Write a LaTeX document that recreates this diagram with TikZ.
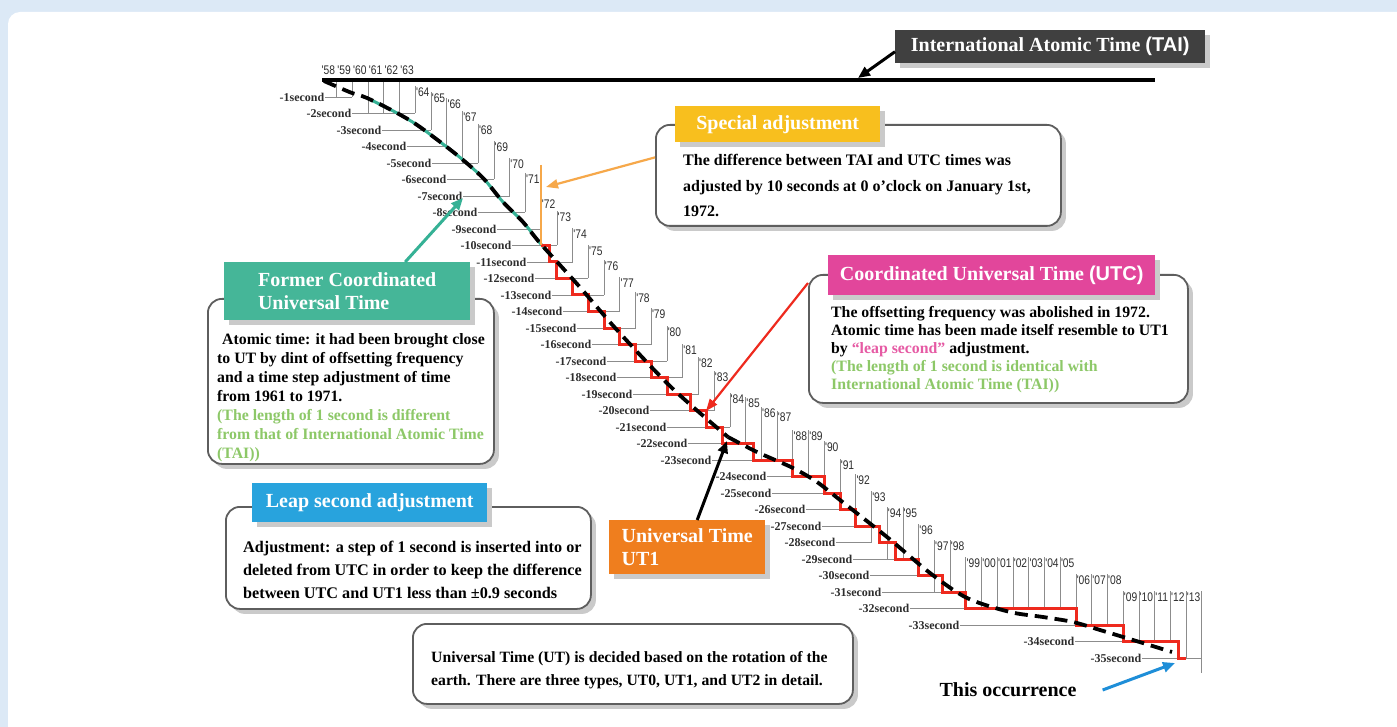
\documentclass[tikz,border=0pt]{standalone}
\usepackage{fontspec}
\setmainfont{Liberation Serif}
\newfontfamily\lsans{Liberation Sans}
\newfontfamily\yrfont[FakeStretch=0.82]{Liberation Sans}
\usetikzlibrary{arrows.meta,shadows}
\definecolor{bgblue}{HTML}{DCE9F6}
\definecolor{gridgray}{HTML}{8C8C8C}
\definecolor{labgray}{HTML}{2E2E2E}
\definecolor{boxgray}{HTML}{5E5E5E}
\definecolor{shadowgray}{HTML}{CACACA}
\definecolor{taidark}{HTML}{404040}
\definecolor{yellowc}{HTML}{F8BF1E}
\definecolor{pinkc}{HTML}{E2469B}
\definecolor{tealc}{HTML}{45B698}
\definecolor{bluec}{HTML}{28A3DD}
\definecolor{orangec}{HTML}{EF7E1E}
\definecolor{curveteal}{HTML}{35B195}
\definecolor{utcred}{HTML}{EE2A1E}
\definecolor{orangeline}{HTML}{F6A84A}
\definecolor{greentxt}{HTML}{8DC868}
\definecolor{pinktxt}{HTML}{E65AA4}
\definecolor{bluearrow}{HTML}{1E8ED8}
\begin{document}
\begin{tikzpicture}[x=1pt,y=-1pt,
  declare function={X(\a)=321+15.73*(\a-1958); Y(\b)=97+16.5*(\b-1);},
  grid/.style={draw=gridgray, line width=0.9pt},
  seclab/.style={font=\bfseries\fontsize{12}{12}\selectfont, text=labgray, inner sep=0.5pt, anchor=east},
  yrlab/.style={font=\yrfont\fontsize{12.5}{12.5}\selectfont, text=labgray, inner sep=0.5pt, anchor=west},
  rbox/.style={draw=boxgray, line width=1.8pt, fill=white, rounded corners=14pt, inner sep=0pt, anchor=north west,
     drop shadow={shadow xshift=5pt, shadow yshift=-5pt, fill=shadowgray, opacity=1}},
  tbox/.style={inner sep=0pt, anchor=north west, text=white, font=\bfseries\fontsize{20}{23}\selectfont,
     drop shadow={shadow xshift=5pt, shadow yshift=-5pt, fill=shadowgray, opacity=1}},
  body/.style={inner sep=0pt, anchor=north west, align=left},
  ut1/.style={line width=3.8pt, dash pattern=on 13pt off 7pt, black},
  arr/.style={line width=3pt, -{Triangle[length=12pt,width=10pt]}},
  thinarr/.style={line width=2.2pt, -{Triangle[length=12pt,width=9pt]}}
]
\useasboundingbox (0,0) rectangle (1397,727);
\fill[bgblue] (0,0) rectangle (1397,727);
\fill[white, rounded corners=12pt] (8,12) rectangle (1430,760);

% seconds grid
\foreach \n/\xe/\ey in {1/325/1960, 2/352/1964, 3/382/1965, 4/407/1966, 5/432/1968, 6/447/1969, 7/463/1970, 8/478/1971, 9/497/1972, 10/512/1973, 11/527/1974, 12/535/1975, 13/552/1976, 14/563/1977, 15/577/1978, 16/592/1979, 17/607/1980, 18/617/1981, 19/633/1982, 20/650/1983, 21/667/1984, 22/688/1985, 23/712/1987, 24/767/1989, 25/772/1990, 26/806/1991, 27/822/1992, 28/836/1993, 29/853/1995, 30/870/1996, 31/882/1998, 32/910/2005, 33/960/2008, 34/1075/2012, 35/1142/2014} {
  \node[seclab] (s\n) at (\xe,{Y(\n)}) {-\n second};
  \draw[grid] (s\n.east) -- ({X(\ey)},{Y(\n)});
}
% year grid
\node[yrlab] (y1958) at ({X(1958)},70) {'58};
\foreach \yr/\ly/\tp/\d/\lab in {1959/70/82/1/59, 1960/70/82/1/60, 1961/70/82/2/61, 1962/70/82/2/62, 1963/70/82/2/63,
 1964/92/86/2/64, 1965/98/92/3/65, 1966/104/98/4/66, 1967/117/111/5/67, 1968/130/124/5/68, 1969/147/141/6/69,
 1970/164/158/7/70, 1971/179/173/8/71, 1972/204/198/9/72, 1973/217/211/10/73, 1974/234/228/11/74, 1975/251/245/12/75,
 1976/266/260/13/76, 1977/283/277/14/77, 1978/298/292/15/78, 1979/314/308/16/79, 1980/332/326/17/80, 1981/350/344/18/81,
 1982/363/357/19/82, 1983/377/371/20/83, 1984/399/393/21/84, 1985/403/397/22/85, 1986/413/407/23/86, 1987/417/411/23/87,
 1988/436/430/24/88, 1989/436/430/24/89, 1990/447/441/25/90, 1991/465/459/26/91, 1992/480/474/27/92, 1993/497/491/28/93,
 1994/513/507/29/94, 1995/513/507/29/95, 1996/530/524/30/96, 1997/546/540/31/97, 1998/546/540/31/98,
 1999/563/557/32/99, 2000/563/557/32/00, 2001/563/557/32/01, 2002/563/557/32/02, 2003/563/557/32/03, 2004/563/557/32/04, 2005/563/557/32/05,
 2006/580/574/33/06, 2007/580/574/33/07, 2008/580/574/33/08,
 2009/597/591/34/09, 2010/597/591/34/10, 2011/597/591/34/11, 2012/597/591/34/12, 2013/597/591/35/13} {
  \node[yrlab] (y\yr) at ({X(\yr)},\ly) {'\lab};
  \draw[grid] ({X(\yr)},\tp) -- ({X(\yr)},{Y(\d)});
}
\draw[grid] ({X(2014)},591) -- ({X(2014)},673);

% former UTC (teal)
\draw[curveteal, line width=3pt] plot[smooth] coordinates {(367,98) (397,113) (420,127) (457,155) (483,178) (503,202) (523,222) (540,243) (547,251)};
% UTC staircase
\draw[utcred, line width=3pt] ({X(1972)},{Y(10)}) -| ({X(1972.5)},{Y(11)}) -| ({X(1973)},{Y(12)}) -| ({X(1974)},{Y(13)})
  -| ({X(1975)},{Y(14)}) -| ({X(1976)},{Y(15)}) -| ({X(1977)},{Y(16)}) -| ({X(1978)},{Y(17)}) -| ({X(1979)},{Y(18)})
  -| ({X(1980)},{Y(19)}) -| ({X(1981.5)},{Y(20)}) -| ({X(1982.5)},{Y(21)}) -| ({X(1983.5)},{Y(22)}) -| ({X(1985.5)},{Y(23)})
  -| ({X(1988)},{Y(24)}) -| ({X(1990)},{Y(25)}) -| ({X(1991)},{Y(26)}) -| ({X(1992)},{Y(27)}) -| ({X(1993.5)},{Y(28)})
  -| ({X(1994.5)},{Y(29)}) -| ({X(1996)},{Y(30)}) -| ({X(1997.5)},{Y(31)}) -| ({X(1999)},{Y(32)}) -| ({X(2006)},{Y(33)})
  -| ({X(2009)},{Y(34)}) -| ({X(2012.5)},{Y(35)}) -- ({X(2013)},{Y(35)});
% UT1 dashed
\draw[ut1] plot[smooth] coordinates {(324,81) (340,88) (352,93) (367,98) (397,113) (420,127) (457,155) (483,178) (503,202) (523,222) (540,243) (578,285) (617,330) (672,388) (728,437)};
\draw[ut1] plot[smooth] coordinates {(728,437) (757,452) (793,468) (817,482) (840,500) (887,537) (930,573) (967,598) (1010,612) (1043,617) (1073,622) (1100,630) (1133,640) (1172,652)};
% special adjustment marker
\draw[orangeline, line width=2.5pt] ({X(1972)},165) -- ({X(1972)},{Y(10)});

% TAI line
\coordinate (tail) at (322,80);
\coordinate (tair) at (1155,80);
\draw[line width=3.5pt] (tail) -- (tair);

% boxes
\node[rbox, minimum width=405pt, minimum height=101pt] (specbox) at (655,124) {};
\node[rbox, minimum width=379pt, minimum height=128pt] (utcbox) at (808,274) {};
\node[rbox, minimum width=286pt, minimum height=165pt] (formbox) at (207,298) {};
\node[rbox, minimum width=365pt, minimum height=102pt] (leapbox) at (225,506) {};
\node[rbox, minimum width=440pt, minimum height=80pt] (utbox) at (412,623) {};

% titles
\node[tbox, fill=taidark, minimum width=310pt, minimum height=33pt] (taibox) at (895,30) {International Atomic Time {\lsans (TAI)}};
\node[tbox, fill=yellowc, minimum width=205pt, minimum height=36pt] (spect) at (675,106) {Special adjustment};
\node[tbox, fill=pinkc, minimum width=327pt, minimum height=40pt] (utct) at (828,255) {Coordinated Universal Time {\lsans (UTC)}};
\node[tbox, fill=tealc, minimum width=246pt, minimum height=58pt, align=left] (formt) at (224,262) {Former Coordinated\\Universal Time};
\node[tbox, fill=bluec, minimum width=235pt, minimum height=39pt] (leapt) at (252,483) {Leap second adjustment};
\node[tbox, fill=orangec, minimum width=156pt, minimum height=54pt, align=left] (ut1box) at (609,520) {Universal Time\\UT1};

% body texts
\node[body, font=\bfseries\fontsize{16}{25.3}\selectfont] (spectxt) at (683,154.5)
  {The difference between TAI and UTC times was\\adjusted by 10 seconds at 0 o’clock on January 1st,\\1972.};
\node[body, font=\bfseries\fontsize{15.8}{18.1}\selectfont] (utctxt) at (831,306)
  {The offsetting frequency was abolished in 1972.\\Atomic time has been made itself resemble to UT1\\by {\color{pinktxt}“leap second”} adjustment.\\{\color{greentxt}(The length of 1 second is identical with}\\{\color{greentxt}International Atomic Time (TAI))}};
\node[body, font=\bfseries\fontsize{15.8}{19}\selectfont] (formtxt) at (217,333)
  {\hspace{5pt}Atomic time: it had been brought close\\to UT by dint of offsetting frequency\\and a time step adjustment of time\\from 1961 to 1971.\\{\color{greentxt}(The length of 1 second is different}\\{\color{greentxt}from that of International Atomic Time}\\{\color{greentxt}(TAI))}};
\node[body, font=\bfseries\fontsize{16.2}{23}\selectfont] (leaptxt) at (243,541)
  {Adjustment: a step of 1 second is inserted into or\\deleted from UTC in order to keep the difference\\between UTC and UT1 less than ±0.9 seconds};
\node[body, font=\bfseries\fontsize{15.7}{23}\selectfont] (uttxt) at (431,651)
  {Universal Time (UT) is decided based on the rotation of the\\earth. There are three types, UT0, UT1, and UT2 in detail.};
\node[inner sep=0pt, font=\bfseries\fontsize{20}{22}\selectfont] (occ) at (1008,690) {This occurrence};

% arrows
\coordinate (taiP) at (858,78);
\coordinate (specP) at (546,187);
\coordinate (formP) at (463,198);
\coordinate (utcP) at (706,411);
\coordinate (ut1P) at (727,441);
\coordinate (occP) at (1175,663);
\draw[arr, black] ([yshift=-5pt]taibox.west) -- (taiP);
\draw[thinarr, orangeline] ([yshift=18pt]specbox.west) -- (specP);
\draw[arr, curveteal] ([xshift=58pt]formt.north) -- (formP);
\draw[thinarr, utcred] ([yshift=-9pt]utcbox.north west) -- (utcP);
\draw[arr, black] ([xshift=10pt]ut1box.north) -- (ut1P);
\draw[arr, bluearrow] ([xshift=26pt]occ.east) -- (occP);
\end{tikzpicture}
\end{document}
